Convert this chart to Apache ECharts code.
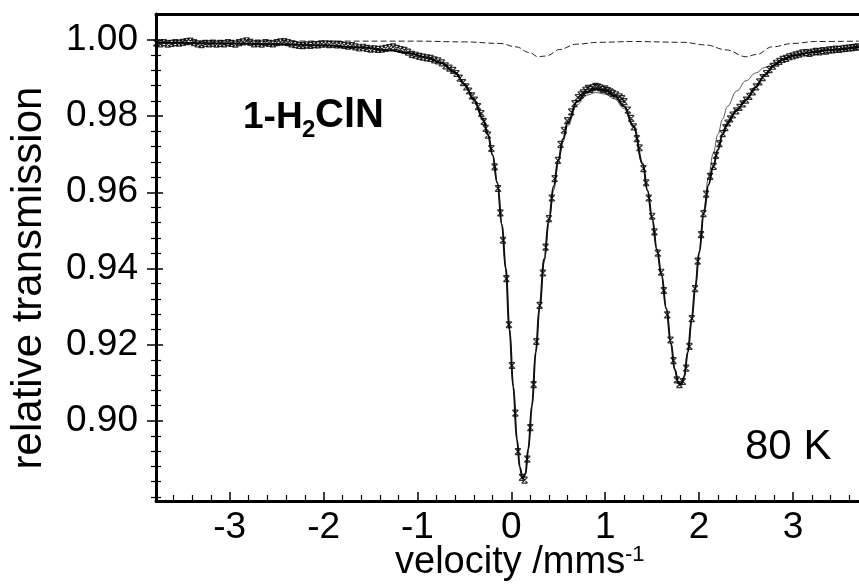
<!DOCTYPE html>
<html>
<head>
<meta charset="utf-8">
<script src="https://cdn.jsdelivr.net/npm/echarts@6.0.0/dist/echarts.min.js"></script>
<style>
  html, body { margin: 0; padding: 0; background: #fff; }
  #chart { width: 859px; height: 588px; }
</style>
</head>
<body>
<div id="chart"></div>
<script>
// tick values
const xMajor = [-3, -2, -1, 0, 1, 2, 3]
const xMinor = [-3.6, -3.4, -3.2, -2.8, -2.6, -2.4, -2.2, -1.8, -1.6, -1.4, -1.2, -0.8, -0.6, -0.4, -0.2,
  0.2, 0.4, 0.6, 0.8, 1.2, 1.4, 1.6, 1.8, 2.2, 2.4, 2.6, 2.8, 3.2, 3.4, 3.6]
const yMajor = [0.90, 0.92, 0.94, 0.96, 0.98, 1.00]
const yMinor = [0.880, 0.884, 0.888, 0.892, 0.896, 0.904, 0.908, 0.912, 0.916, 0.924, 0.928, 0.932, 0.936,
  0.944, 0.948, 0.952, 0.956, 0.964, 0.968, 0.972, 0.976, 0.984, 0.988, 0.992, 0.996]

// measured spectrum [velocity, transmission]
const measured = [
  [-3.78, 0.9992], [-3.74, 0.9990], [-3.70, 0.9993], [-3.66, 0.9989], [-3.62, 0.9991], [-3.58, 0.9993],
  [-3.54, 0.9992], [-3.50, 0.9994], [-3.46, 0.9996], [-3.42, 0.9997], [-3.38, 0.9993], [-3.34, 0.9990],
  [-3.30, 0.9988], [-3.26, 0.9991], [-3.22, 0.9990], [-3.18, 0.9992], [-3.14, 0.9989], [-3.10, 0.9991],
  [-3.06, 0.9990], [-3.02, 0.9993], [-2.98, 0.9991], [-2.94, 0.9989], [-2.90, 0.9993], [-2.86, 0.9995],
  [-2.82, 0.9998], [-2.78, 0.9994], [-2.74, 0.9990], [-2.70, 0.9992], [-2.66, 0.9989], [-2.62, 0.9993],
  [-2.58, 0.9991], [-2.54, 0.9990], [-2.50, 0.9993], [-2.46, 0.9995], [-2.42, 0.9996], [-2.38, 0.9993],
  [-2.34, 0.9990], [-2.30, 0.9988], [-2.26, 0.9986], [-2.22, 0.9985], [-2.18, 0.9987], [-2.14, 0.9986],
  [-2.10, 0.9988], [-2.06, 0.9987], [-2.02, 0.9989], [-1.98, 0.9990], [-1.94, 0.9988], [-1.90, 0.9989],
  [-1.86, 0.9987], [-1.82, 0.9988], [-1.78, 0.9986], [-1.74, 0.9984], [-1.70, 0.9985], [-1.66, 0.9982],
  [-1.62, 0.9979], [-1.58, 0.9981], [-1.54, 0.9978], [-1.50, 0.9976], [-1.46, 0.9977], [-1.42, 0.9975],
  [-1.38, 0.9976], [-1.34, 0.9978], [-1.30, 0.9980], [-1.26, 0.9982], [-1.22, 0.9978], [-1.18, 0.9975],
  [-1.14, 0.9973], [-1.10, 0.9968], [-1.06, 0.9962], [-1.02, 0.9960], [-0.98, 0.9957], [-0.94, 0.9955],
  [-0.90, 0.9953], [-0.86, 0.9952], [-0.82, 0.9948], [-0.78, 0.9945], [-0.74, 0.9940], [-0.70, 0.9932],
  [-0.66, 0.9926], [-0.62, 0.9920], [-0.585, 0.9912], [-0.55, 0.9900], [-0.515, 0.9888], [-0.48, 0.9877],
  [-0.45, 0.9866], [-0.42, 0.9853], [-0.39, 0.9842], [-0.355, 0.9825], [-0.32, 0.9807], [-0.295, 0.9786],
  [-0.273, 0.9768], [-0.249, 0.9750], [-0.213, 0.9715], [-0.178, 0.9667], [-0.142, 0.9610], [-0.117, 0.9546],
  [-0.089, 0.9474], [-0.053, 0.9373], [-0.026, 0.9252], [0.006, 0.9145], [0.043, 0.9020], [0.070, 0.8919],
  [0.113, 0.8851], [0.141, 0.8844], [0.170, 0.8899], [0.202, 0.8982], [0.237, 0.9095], [0.266, 0.9208],
  [0.301, 0.9303], [0.336, 0.9388], [0.365, 0.9456], [0.400, 0.9531], [0.432, 0.9585], [0.461, 0.9636],
  [0.496, 0.9684], [0.524, 0.9726], [0.560, 0.9763], [0.595, 0.9788], [0.638, 0.9811], [0.673, 0.9833],
  [0.709, 0.9849], [0.740, 0.9856], [0.762, 0.9861], [0.790, 0.9868], [0.815, 0.9873], [0.840, 0.9870],
  [0.868, 0.9875], [0.895, 0.9878], [0.921, 0.9877], [0.948, 0.9874], [0.974, 0.9870], [1.000, 0.9872],
  [1.028, 0.9867], [1.055, 0.9864], [1.081, 0.9860], [1.115, 0.9856], [1.152, 0.9851], [1.180, 0.9846],
  [1.205, 0.9838], [1.241, 0.9816], [1.277, 0.9794], [1.305, 0.9772], [1.337, 0.9741], [1.365, 0.9717],
  [1.407, 0.9662], [1.436, 0.9625], [1.464, 0.9585], [1.500, 0.9537], [1.524, 0.9496], [1.560, 0.9440],
  [1.596, 0.9390], [1.624, 0.9342], [1.660, 0.9278], [1.695, 0.9212], [1.727, 0.9158], [1.762, 0.9107],
  [1.790, 0.9095], [1.826, 0.9103], [1.862, 0.9138], [1.897, 0.9195], [1.922, 0.9268], [1.957, 0.9347],
  [1.985, 0.9419], [2.021, 0.9489], [2.046, 0.9544], [2.074, 0.9595], [2.117, 0.9642], [2.155, 0.9668],
  [2.180, 0.9697], [2.216, 0.9728], [2.251, 0.9754], [2.280, 0.9770], [2.305, 0.9782], [2.330, 0.9793],
  [2.357, 0.9803], [2.395, 0.9814], [2.430, 0.9823], [2.465, 0.9832], [2.500, 0.9842], [2.535, 0.9852],
  [2.570, 0.9864], [2.605, 0.9877], [2.641, 0.9890], [2.677, 0.9901], [2.713, 0.9912], [2.750, 0.9922],
  [2.785, 0.9931], [2.820, 0.9939], [2.855, 0.9944], [2.890, 0.9949], [2.926, 0.9952], [2.960, 0.9956],
  [2.995, 0.9958], [3.030, 0.9961], [3.065, 0.9963], [3.100, 0.9966], [3.140, 0.9967], [3.175, 0.9965],
  [3.210, 0.9968], [3.245, 0.9970], [3.280, 0.9969], [3.315, 0.9972], [3.350, 0.9971], [3.385, 0.9974],
  [3.420, 0.9974], [3.455, 0.9976], [3.490, 0.9975], [3.525, 0.9977], [3.560, 0.9978], [3.595, 0.9979],
  [3.630, 0.9980], [3.665, 0.9981], [3.690, 0.9982]
]

// total fit (thick)
const fitTotal = [
  [-3.79, 0.9993], [-3.0, 0.9991], [-2.5, 0.9989], [-2.0, 0.9986], [-1.6, 0.9980], [-1.3, 0.9973],
  [-1.1, 0.9966], [-0.9, 0.9954], [-0.75, 0.9940], [-0.6, 0.9915], [-0.5, 0.9884], [-0.4, 0.9843],
  [-0.3, 0.9792], [-0.25, 0.9752], [-0.2, 0.9698], [-0.15, 0.9625], [-0.1, 0.9515], [-0.06, 0.9400],
  [-0.02, 0.9240], [0.02, 0.9090], [0.06, 0.8950], [0.09, 0.8878], [0.12, 0.8848], [0.15, 0.8860],
  [0.18, 0.8925], [0.22, 0.9040], [0.26, 0.9180], [0.30, 0.9298], [0.35, 0.9425], [0.40, 0.9528],
  [0.45, 0.9615], [0.50, 0.9685], [0.55, 0.9740], [0.60, 0.9783], [0.70, 0.9838], [0.80, 0.9863],
  [0.90, 0.9872], [1.00, 0.9868], [1.10, 0.9854], [1.20, 0.9826], [1.30, 0.9774], [1.40, 0.9675],
  [1.45, 0.9605], [1.50, 0.9530], [1.55, 0.9450], [1.60, 0.9382], [1.65, 0.9295], [1.70, 0.9203],
  [1.74, 0.9135], [1.78, 0.9098], [1.81, 0.9095], [1.84, 0.9115], [1.88, 0.9180], [1.92, 0.9265],
  [1.96, 0.9352], [2.00, 0.9440], [2.05, 0.9545], [2.10, 0.9620], [2.15, 0.9668], [2.20, 0.9712],
  [2.25, 0.9752], [2.30, 0.9780], [2.40, 0.9816], [2.50, 0.9843], [2.60, 0.9876], [2.70, 0.9908],
  [2.80, 0.9934], [2.90, 0.9950], [3.00, 0.9959], [3.20, 0.9968], [3.40, 0.9974], [3.70, 0.9982]
]

// main doublet (thin)
const fitMain = [
  [-3.79, 0.9993], [-3.0, 0.9991], [-2.5, 0.9989], [-2.0, 0.9986], [-1.6, 0.9980], [-1.3, 0.9973],
  [-1.1, 0.9966], [-0.9, 0.9954], [-0.75, 0.9940], [-0.6, 0.9915], [-0.5, 0.9884], [-0.4, 0.9843],
  [-0.3, 0.9792], [-0.25, 0.9752], [-0.2, 0.9698], [-0.15, 0.9625], [-0.1, 0.9515], [-0.06, 0.9400],
  [-0.02, 0.9240], [0.02, 0.9090], [0.06, 0.8950], [0.09, 0.8878], [0.12, 0.8848], [0.15, 0.8860],
  [0.18, 0.8925], [0.22, 0.9040], [0.26, 0.9180], [0.30, 0.9295], [0.35, 0.9418], [0.40, 0.9520],
  [0.45, 0.9605], [0.50, 0.9675], [0.55, 0.9732], [0.60, 0.9775], [0.70, 0.9830], [0.80, 0.9855],
  [0.90, 0.9862], [1.00, 0.9858], [1.10, 0.9845], [1.20, 0.9820], [1.30, 0.9770], [1.40, 0.9672],
  [1.45, 0.9605], [1.50, 0.9530], [1.55, 0.9450], [1.60, 0.9382], [1.65, 0.9295], [1.70, 0.9203],
  [1.74, 0.9135], [1.78, 0.9098], [1.81, 0.9095], [1.84, 0.9115], [1.88, 0.9180], [1.92, 0.9265],
  [1.96, 0.9352], [2.00, 0.9445], [2.05, 0.9555], [2.10, 0.9640], [2.15, 0.9702], [2.20, 0.9752],
  [2.25, 0.9792], [2.30, 0.9825], [2.40, 0.9866], [2.50, 0.9893], [2.60, 0.9913], [2.70, 0.9928],
  [2.80, 0.9940], [2.90, 0.9950], [3.00, 0.9958], [3.20, 0.9968], [3.40, 0.9974], [3.70, 0.9982]
]

// minor doublet (dashed)
const fitMinor = [
  [-3.79, 0.9998], [-1.0, 0.9997], [-0.5, 0.9995], [-0.12, 0.9991], [0.05, 0.9982], [0.195, 0.9967],
  [0.283, 0.9956], [0.372, 0.9958], [0.514, 0.9975], [0.69, 0.9989], [0.94, 0.9994], [1.29, 0.9996],
  [1.83, 0.9994], [2.07, 0.9987], [2.29, 0.9974], [2.50, 0.9956], [2.61, 0.9962], [2.78, 0.9982],
  [3.00, 0.9991], [3.24, 0.9996], [3.70, 0.9997]
]

const FONT = 'Liberation Sans, Arial, sans-serif'
const X_MIN = -3.785, X_MAX = 3.703
const Y_MIN = 0.87891, Y_MAX = 1.00683

const chart = echarts.init(document.getElementById('chart'), null, { renderer: 'canvas' })

// hidden helper axes only carry ticks
function xAx(extra) {
  return Object.assign({
    type: 'value', min: X_MIN, max: X_MAX, position: 'bottom',
    axisLine: { show: false, onZero: false },
    axisTick: { show: false },
    axisLabel: { show: false },
    splitLine: { show: false }
  }, extra)
}
function yAx(extra) {
  return Object.assign({
    type: 'value', min: Y_MIN, max: Y_MAX, position: 'left',
    axisLine: { show: false, onZero: false },
    axisTick: { show: false },
    axisLabel: { show: false },
    splitLine: { show: false }
  }, extra)
}

chart.setOption({
  animation: false,
  grid: { left: 156, right: 0, top: 14, bottom: 87, outerBoundsMode: 'none' },
  xAxis: [
    xAx({
      axisLine: { show: true, onZero: false, lineStyle: { color: '#000', width: 3 } },
      axisTick: { show: true, inside: true, length: 9, customValues: xMajor, lineStyle: { color: '#000', width: 1.5 } },
      axisLabel: { show: true, customValues: xMajor, color: '#000', fontSize: 37, fontFamily: FONT, margin: 8 }
    }),
    xAx({
      axisTick: { show: true, inside: true, length: 6, customValues: xMinor, lineStyle: { color: '#000', width: 1.2 } }
    }),
    xAx({
      position: 'top',
      axisLine: { show: true, onZero: false, lineStyle: { color: '#000', width: 3 } }
    })
  ],
  yAxis: [
    yAx({
      axisLine: { show: true, onZero: false, lineStyle: { color: '#000', width: 3 } },
      axisTick: { show: true, inside: false, length: 9, customValues: yMajor, lineStyle: { color: '#000', width: 1.5 } },
      axisLabel: {
        show: true, customValues: yMajor, color: '#000', fontSize: 37, fontFamily: FONT, margin: 18,
        formatter: v => v.toFixed(2)
      }
    }),
    yAx({
      axisTick: { show: true, inside: false, length: 5, customValues: yMinor, lineStyle: { color: '#000', width: 1.2 } }
    }),
    yAx({
      axisTick: { show: true, inside: true, length: 7, customValues: yMajor, lineStyle: { color: '#000', width: 1.5 } }
    }),
    yAx({
      axisTick: { show: true, inside: true, length: 5, customValues: yMinor, lineStyle: { color: '#000', width: 1.2 } }
    })
  ],
  series: [
    {
      type: 'line', data: fitMinor, showSymbol: false, smooth: 0.4, smoothMonotone: 'x',
      lineStyle: { color: '#222', width: 1, type: [6, 3] }, z: 1
    },
    {
      type: 'line', data: fitMain, showSymbol: false, smooth: 0.4, smoothMonotone: 'x',
      lineStyle: { color: '#555', width: 1 }, z: 2
    },
    {
      type: 'line', data: fitTotal, showSymbol: false, smooth: 0.4, smoothMonotone: 'x',
      lineStyle: { color: '#111', width: 2 }, z: 3
    },
    {
      type: 'scatter', data: measured, z: 4,
      symbol: 'path://M0 0H10M0 10H10M0 0L10 10M10 0L0 10', symbolSize: 6,
      itemStyle: { color: 'none', borderColor: '#000', borderWidth: 1.2 }
    }
  ],
  graphic: [
    {
      type: 'text', x: 29, y: 278, rotation: Math.PI / 2,
      style: { text: 'relative transmission', font: '42px ' + FONT, fill: '#000', align: 'center', verticalAlign: 'middle' }
    },
    {
      type: 'text', x: 395, y: 582,
      style: { text: 'velocity /mms', font: '38px ' + FONT, fill: '#000', verticalAlign: 'bottom' }
    },
    {
      type: 'text', x: 625, y: 566,
      style: { text: '-1', font: '22px ' + FONT, fill: '#000', verticalAlign: 'bottom' }
    },
    {
      type: 'text', x: 243, y: 136,
      style: { text: '1-H', font: 'bold 37px ' + FONT, fill: '#000', verticalAlign: 'bottom' }
    },
    {
      type: 'text', x: 302, y: 142,
      style: { text: '2', font: 'bold 24px ' + FONT, fill: '#000', verticalAlign: 'bottom' }
    },
    {
      type: 'text', x: 315, y: 136,
      style: { text: 'ClN', font: 'bold 40px ' + FONT, fill: '#000', verticalAlign: 'bottom' }
    },
    {
      type: 'text', x: 745, y: 468,
      style: { text: '80 K', font: '42px ' + FONT, fill: '#000', verticalAlign: 'bottom' }
    }
  ]
})
</script>
</body>
</html>
